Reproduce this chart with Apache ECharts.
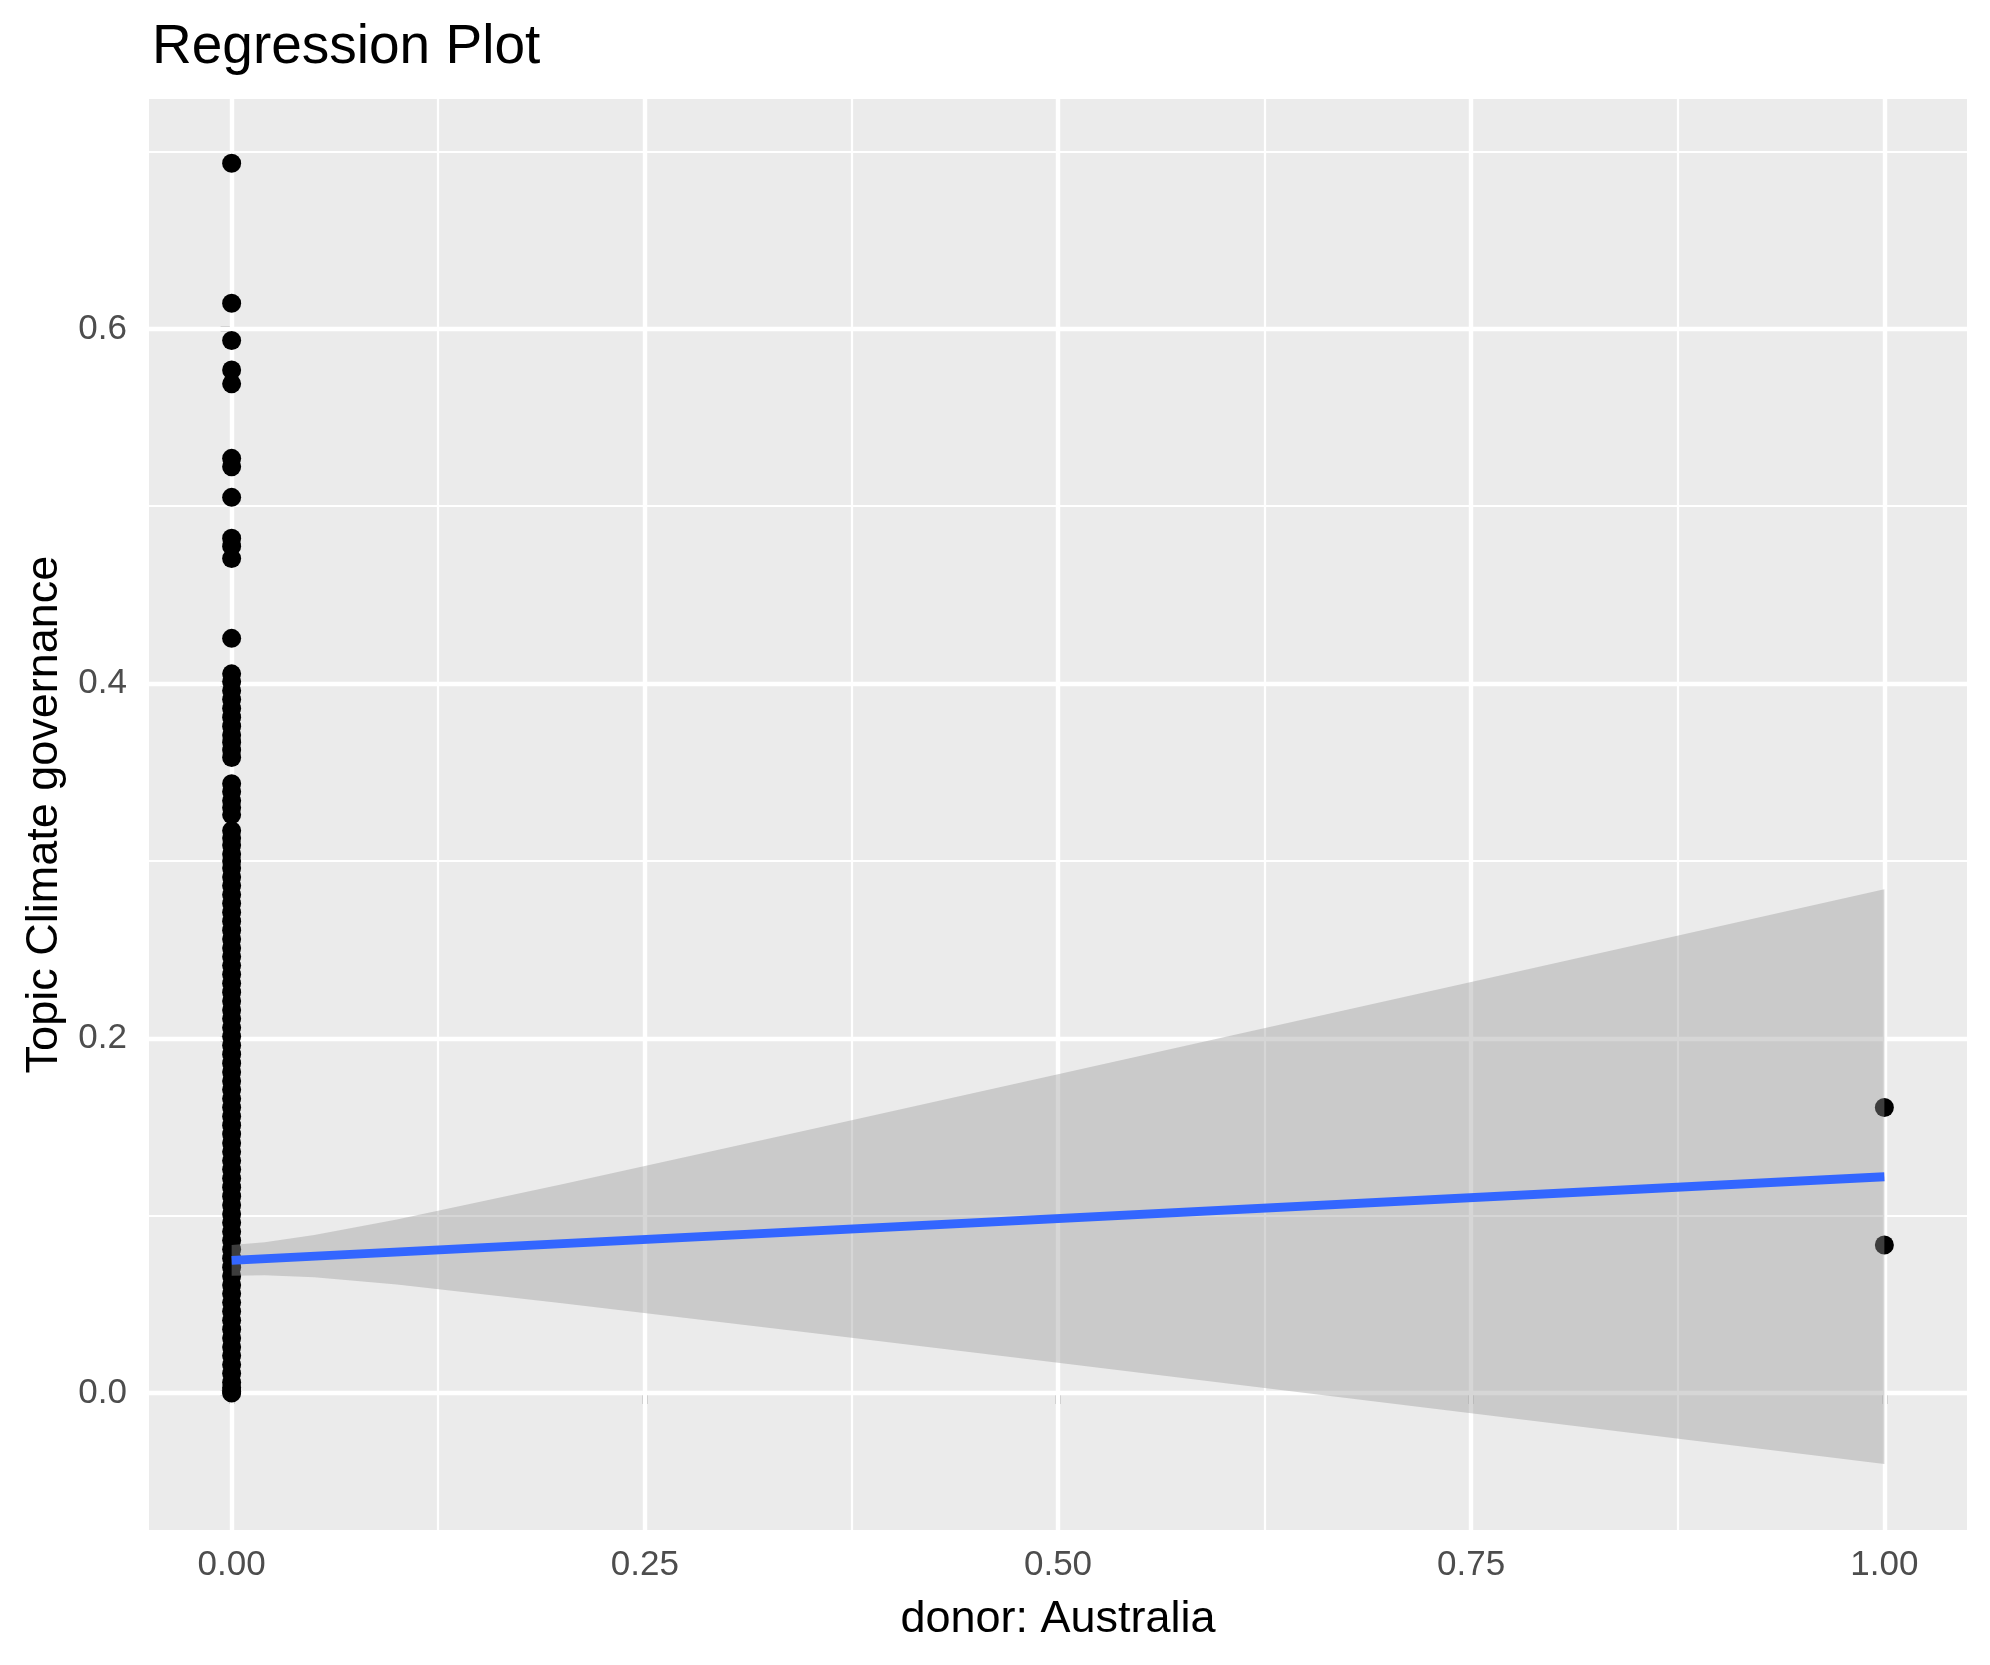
<!DOCTYPE html>
<html>
<head>
<meta charset="utf-8">
<script src="https://cdn.jsdelivr.net/npm/echarts@6/dist/echarts.min.js"></script>
<style>
  html, body { margin: 0; padding: 0; background: #ffffff; }
  #chart { width: 1990px; height: 1665px; }
</style>
</head>
<body>
<div id="chart"></div>
<script>
// ---- data ----
const titleText = "Regression Plot";
const xAxisTitle = "donor: Australia";
const yAxisTitle = "Topic Climate governance";

const xTicks = [0, 0.25, 0.5, 0.75, 1];
const xMinor = [0.125, 0.375, 0.625, 0.875];
const yTicks = [0, 0.2, 0.4, 0.6];
const yMinor = [0.1, 0.3, 0.5, 0.7];

// Topic values for documents with donor Australia = 0
const topicAtZero = [
  0.6934, 0.6144, 0.5934, 0.5768, 0.5690, 0.5270, 0.5223, 0.5050,
  0.4820, 0.4775, 0.4705, 0.4255,
  0.4055, 0.4010, 0.3960, 0.3910, 0.3860, 0.3810, 0.3760, 0.3710, 0.3670, 0.3625, 0.3583,
  0.3435, 0.3390, 0.3340, 0.3300, 0.3260, 0.3170, 0.3130, 0.3090, 0.3040, 0.3000,
  0.2960, 0.2910, 0.2860, 0.2810, 0.2760, 0.2710, 0.2660, 0.2610, 0.2560, 0.2510,
  0.2460, 0.2410, 0.2360, 0.2310, 0.2260, 0.2210, 0.2160, 0.2110, 0.2060, 0.2010,
  0.1960, 0.1910, 0.1860, 0.1810, 0.1760, 0.1710, 0.1660, 0.1610, 0.1560, 0.1510,
  0.1460, 0.1410, 0.1360, 0.1310, 0.1260, 0.1210, 0.1160, 0.1110, 0.1060, 0.1010,
  0.0960, 0.0910, 0.0860, 0.0810, 0.0760, 0.0710, 0.0660, 0.0610, 0.0560, 0.0510,
  0.0460, 0.0410, 0.0360, 0.0310, 0.0260, 0.0210, 0.0160, 0.0110, 0.0060, 0.0030,
  0.0010, 0.0000
];
// Topic values for documents with donor Australia = 1
const topicAtOne = [0.1610, 0.0835];

// fitted regression line
const fitX = [0, 1];
const fitY = [0.0748, 0.1220];

// confidence band
const bandX     = [0,      0.02,   0.05,   0.1,    0.2,    0.35,   0.5,    0.75,    1];
const bandUpper = [0.0835, 0.0850, 0.0891, 0.0979, 0.1177, 0.1486, 0.1797, 0.2318,  0.2840];
const bandLower = [0.0661, 0.0664, 0.0653, 0.0612, 0.0507, 0.0340, 0.0171, -0.0114, -0.0400];

// ---- chart ----
const chart = echarts.init(document.getElementById('chart'), null, { renderer: 'canvas' });

const scatterData = topicAtZero.map(v => [0, v]).concat(topicAtOne.map(v => [1, v]));
const fitData = fitX.map((x, i) => [x, fitY[i]]);

const gridLines = []
  .concat(xTicks.map(v => ({ xAxis: v, lineStyle: { width: 4.4 } })))
  .concat(xMinor.map(v => ({ xAxis: v, lineStyle: { width: 2.2 } })))
  .concat(yTicks.map(v => ({ yAxis: v, lineStyle: { width: 4.4 } })))
  .concat(yMinor.map(v => ({ yAxis: v, lineStyle: { width: 2.2 } })));

const font = "'Liberation Sans', Arial, Helvetica, sans-serif";

const option = {
  animation: false,
  backgroundColor: '#ffffff',
  title: {
    text: titleText,
    left: 147,
    top: 15,
    textStyle: { fontFamily: font, fontSize: 55, fontWeight: 'normal', color: '#000000', lineHeight: 55 }
  },
  grid: {
    left: 149, right: 23, top: 99, bottom: 135,
    show: true, backgroundColor: '#EBEBEB', borderWidth: 0
  },
  xAxis: {
    type: 'value',
    min: -0.05, max: 1.05,
    name: xAxisTitle,
    nameLocation: 'middle',
    nameGap: 67,
    nameTextStyle: { fontFamily: font, fontSize: 45, color: '#000000', lineHeight: 45 },
    axisLine: { show: false },
    splitLine: { show: false },
    axisTick: { show: true, length: 11, customValues: xTicks, lineStyle: { color: '#333333', width: 4.4 } },
    axisLabel: {
      show: true, customValues: xTicks, margin: 18,
      fontFamily: font, fontSize: 35, color: '#4D4D4D', lineHeight: 35,
      formatter: v => v.toFixed(2)
    }
  },
  yAxis: {
    type: 'value',
    min: -0.0772, max: 0.7296,
    name: yAxisTitle,
    nameLocation: 'middle',
    nameGap: 81,
    nameRotate: 90,
    nameTextStyle: { fontFamily: font, fontSize: 45, color: '#000000', lineHeight: 45 },
    axisLine: { show: false },
    splitLine: { show: false },
    axisTick: { show: true, length: 11, customValues: yTicks, lineStyle: { color: '#333333', width: 4.4 } },
    axisLabel: {
      show: true, customValues: yTicks, margin: 22,
      fontFamily: font, fontSize: 35, color: '#4D4D4D',
      formatter: v => v.toFixed(1)
    }
  },
  series: [
    {
      name: 'grid',
      type: 'scatter',
      data: [],
      z: 1,
      silent: true,
      markLine: {
        silent: true,
        z: 1,
        precision: 6,
        symbol: ['none', 'none'],
        label: { show: false },
        emphasis: { disabled: true },
        lineStyle: { color: '#ffffff', type: 'solid', width: 4.4 },
        data: gridLines
      }
    },
    {
      name: 'points',
      type: 'scatter',
      data: scatterData,
      symbol: 'circle',
      symbolSize: 19,
      itemStyle: { color: '#000000', opacity: 1 },
      z: 3,
      silent: true
    },
    {
      name: 'band',
      type: 'custom',
      data: [[0, 0]],
      z: 4,
      silent: true,
      renderItem: function (params, api) {
        const pts = [];
        for (let i = 0; i < bandX.length; i++) pts.push(api.coord([bandX[i], bandUpper[i]]));
        for (let i = bandX.length - 1; i >= 0; i--) pts.push(api.coord([bandX[i], bandLower[i]]));
        return {
          type: 'polygon',
          shape: { points: pts },
          style: { fill: 'rgba(153,153,153,0.4)', stroke: null }
        };
      }
    },
    {
      name: 'fit',
      type: 'line',
      data: fitData,
      showSymbol: false,
      symbol: 'none',
      lineStyle: { color: '#3366FF', width: 8.9, cap: 'butt' },
      z: 5,
      silent: true
    }
  ]
};
chart.setOption(option);
</script>
</body>
</html>
